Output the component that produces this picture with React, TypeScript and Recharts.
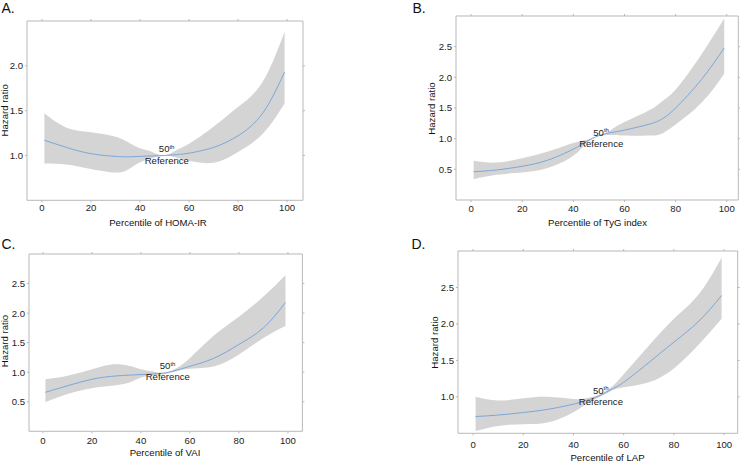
import { Area, ComposedChart, Line, ReferenceDot, XAxis, YAxis } from 'recharts';

// Panel A - HOMA-IR
const pctA = [1, 10, 20, 30, 35, 40, 45, 50, 55, 60, 70, 80, 90, 99];
const hrA = [1.17, 1.09, 1.02, 0.99, 0.985, 0.99, 0.995, 1.0, 1.01, 1.026, 1.09, 1.22, 1.47, 1.93];
const loA = [0.91, 0.9, 0.85, 0.81, 0.84, 0.925, 0.97, 1.0, 0.975, 0.94, 0.92, 1.04, 1.24, 1.58];
const hiA = [1.47, 1.31, 1.26, 1.21, 1.15, 1.08, 1.04, 1.0, 1.06, 1.13, 1.32, 1.54, 1.82, 2.38];

// Panel B - TyG index
const pctB = [1, 10, 20, 30, 40, 45, 50, 55, 60, 70, 75, 80, 90, 99];
const hrB = [0.46, 0.49, 0.55, 0.65, 0.83, 0.95, 1.05, 1.1, 1.14, 1.24, 1.33, 1.5, 1.96, 2.48];
const loB = [0.34, 0.41, 0.45, 0.52, 0.72, 0.92, 1.04, 1.06, 1.05, 1.05, 1.09, 1.23, 1.58, 2.06];
const hiB = [0.64, 0.61, 0.68, 0.79, 0.93, 0.98, 1.04, 1.15, 1.27, 1.47, 1.62, 1.8, 2.37, 2.96];

// Panel C - VAI
const pctC = [1, 10, 20, 28, 35, 40, 45, 50, 55, 60, 70, 80, 90, 99];
const hrC = [0.66, 0.77, 0.88, 0.93, 0.95, 0.96, 0.97, 0.99, 1.04, 1.1, 1.24, 1.47, 1.75, 2.18];
const loC = [0.49, 0.63, 0.73, 0.77, 0.82, 0.91, 0.95, 0.97, 1.02, 1.06, 1.1, 1.3, 1.58, 1.78];
const hiC = [0.88, 0.94, 1.05, 1.13, 1.11, 1.05, 1.01, 0.99, 1.08, 1.24, 1.63, 1.94, 2.28, 2.64];

// Panel D - LAP
const pctD = [1, 10, 20, 30, 40, 45, 50, 55, 60, 70, 80, 90, 99];
const hrD = [0.73, 0.75, 0.785, 0.83, 0.9, 0.95, 1.01, 1.1, 1.2, 1.47, 1.75, 2.04, 2.39];
const loD = [0.53, 0.6, 0.625, 0.65, 0.79, 0.9, 0.99, 1.08, 1.13, 1.2, 1.39, 1.72, 2.07];
const hiD = [1.0, 0.95, 0.98, 1.0, 0.97, 0.98, 1.03, 1.13, 1.31, 1.7, 2.07, 2.41, 2.91];

const xTicks = [0, 20, 40, 60, 80, 100];
const yTicksA = [1.0, 1.5, 2.0];
const yTicksBC = [0.5, 1.0, 1.5, 2.0, 2.5];
const yTicksD = [1.0, 1.5, 2.0, 2.5];

const FONT = '"Liberation Sans", Arial, sans-serif';
const AXIS = '#b8b8b8';
const BAND = '#d4d4d4';
const LINE = '#7ba6d9';

const YW = 44;
const TH = 8;
const RW = 8;
const BH = 40;

function rows(pct: number[], hr: number[], lo: number[], hi: number[]) {
  return pct.map((p, i) => ({ p, hr: hr[i], band: [lo[i], hi[i]] }));
}

function RefLabel(props: any) {
  const { x, y } = props.viewBox || {};
  if (x == null) return null;
  return (
    <g style={{ fontFamily: FONT }} fill="#222">
      <text x={x - 5.7} y={y - 3} fontSize={9.6}>
        50<tspan fontSize={6} dy={-3.5}>th</tspan>
      </text>
      <text x={x + 2.3} y={y + 8.2} fontSize={9.6} textAnchor="middle">
        Reference
      </text>
    </g>
  );
}

type PanelProps = {
  data: any[];
  plot: [number, number, number, number]; // left, right, top, bottom
  xDomain: [number, number];
  yDomain: [number, number];
  yTicks: number[];
  xGap: number;
};

function Panel({ data, plot, xDomain, yDomain, yTicks, xGap }: PanelProps) {
  const [l, r, t, b] = plot;
  const w = r - l + YW + RW;
  const h = b - t + TH + BH;
  const tick = { fontSize: 9.6, fill: '#222', fontFamily: FONT };
  return (
    <div style={{ position: 'absolute', left: l - YW, top: t - TH, width: w, height: h }}>
      <ComposedChart width={w} height={h} data={data} margin={{ top: 0, right: 0, bottom: 0, left: 0 }}>
        <XAxis
          xAxisId="b"
          dataKey="p"
          type="number"
          domain={xDomain}
          ticks={xTicks}
          allowDataOverflow
          height={BH}
          stroke={AXIS}
          tickSize={2}
          tickMargin={xGap}
          tick={tick}
        />
        <XAxis
          xAxisId="t"
          orientation="top"
          dataKey="p"
          type="number"
          domain={xDomain}
          ticks={xTicks}
          allowDataOverflow
          height={TH}
          stroke={AXIS}
          tickSize={2}
          tickFormatter={() => ''}
        />
        <YAxis
          yAxisId="l"
          type="number"
          domain={yDomain}
          ticks={yTicks}
          allowDataOverflow
          width={YW}
          stroke={AXIS}
          tickSize={2}
          tickMargin={2}
          tick={tick}
          tickFormatter={(v: number) => v.toFixed(1)}
        />
        <YAxis
          yAxisId="r"
          orientation="right"
          type="number"
          domain={yDomain}
          ticks={yTicks}
          allowDataOverflow
          width={RW}
          stroke={AXIS}
          tickSize={2}
          tickFormatter={() => ''}
        />
        <Area
          xAxisId="b"
          yAxisId="l"
          dataKey="band"
          type="natural"
          fill={BAND}
          fillOpacity={1}
          stroke="none"
          isAnimationActive={false}
        />
        <Line
          xAxisId="b"
          yAxisId="l"
          dataKey="hr"
          type="natural"
          stroke={LINE}
          strokeWidth={1}
          dot={false}
          isAnimationActive={false}
        />
        <ReferenceDot xAxisId="b" yAxisId="l" x={50} y={1} r={0} fill="none" stroke="none" label={<RefLabel />} />
      </ComposedChart>
    </div>
  );
}

const letters = [
  { t: 'A.', x: 1.5, y: 13 },
  { t: 'B.', x: 412.5, y: 13 },
  { t: 'C.', x: 1.5, y: 249 },
  { t: 'D.', x: 411.5, y: 249 },
];

const yTitles = [
  { x: 8.5, y: 110.3 },
  { x: 435, y: 108.5 },
  { x: 8, y: 341 },
  { x: 438.3, y: 342.5 },
];

const xTitles = [
  { t: 'Percentile of HOMA-IR', x: 158, y: 226 },
  { t: 'Percentile of TyG index', x: 597.5, y: 226 },
  { t: 'Percentile of VAI', x: 165, y: 456 },
  { t: 'Percentile of LAP', x: 607.5, y: 460.5 },
];

export default function App() {
  return (
    <div
      style={{
        position: 'absolute',
        left: 0,
        top: 0,
        width: 740,
        height: 462,
        overflow: 'hidden',
        background: '#fff',
        fontFamily: FONT,
      }}
    >
      <Panel data={rows(pctA, hrA, loA, hiA)} plot={[26.7, 302.7, 20.7, 200]} xDomain={[-6.1, 106.5]} yDomain={[0.5, 2.5]} yTicks={yTicksA} xGap={2} />
      <Panel data={rows(pctB, hrB, loB, hiB)} plot={[456, 738.3, 16, 200]} xDomain={[-5.9, 104.5]} yDomain={[0, 3]} yTicks={yTicksBC} xGap={3} />
      <Panel data={rows(pctC, hrC, loC, hiC)} plot={[29.3, 302.7, 253.7, 431]} xDomain={[-5.7, 105.9]} yDomain={[0, 3]} yTicks={yTicksBC} xGap={4} />
      <Panel data={rows(pctD, hrD, loD, hiD)} plot={[458.3, 738, 251, 433.3]} xDomain={[-6.0, 105.4]} yDomain={[0.5, 3.0]} yTicks={yTicksD} xGap={5.4} />
      <svg width={740} height={462} style={{ position: 'absolute', left: 0, top: 0, pointerEvents: 'none' }}>
        <g fontFamily={FONT} fill="#111">
          {letters.map((d) => (
            <text key={d.t} x={d.x} y={d.y} fontSize={14}>
              {d.t}
            </text>
          ))}
          {yTitles.map((d, i) => (
            <text key={i} x={d.x} y={d.y} fontSize={9.6} textAnchor="middle" transform={`rotate(-90 ${d.x} ${d.y})`}>
              Hazard ratio
            </text>
          ))}
          {xTitles.map((d) => (
            <text key={d.t} x={d.x} y={d.y} fontSize={9.6} textAnchor="middle">
              {d.t}
            </text>
          ))}
        </g>
      </svg>
    </div>
  );
}
